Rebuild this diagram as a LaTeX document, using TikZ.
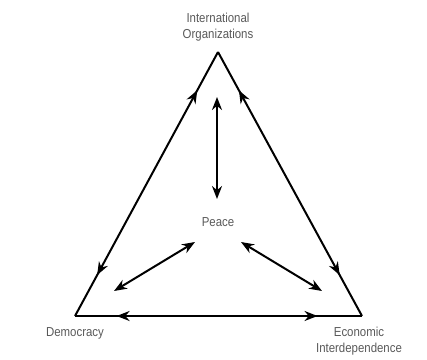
\documentclass[tikz,border=0pt]{standalone}
\usepackage{fontspec}
\setmainfont{Liberation Sans}
\newfontfamily\narrowfont[FakeStretch=0.88]{Liberation Sans}
\usetikzlibrary{positioning}
\usetikzlibrary{arrows.meta}
\usetikzlibrary{decorations.markings}

\begin{document}
\begin{tikzpicture}[x=1pt, y=-1pt, node distance=2pt,
    vertex/.style={shape=circle, inner sep=0mm, minimum size=0mm},
    label/.style={text=black!65, font=\narrowfont\fontsize{13}{16}\selectfont, inner sep=1pt, align=center},
    side/.style={line width=2pt, line join=miter, postaction={decorate},
      decoration={markings,
        mark=at position 0.145 with {\arrowreversed{Stealth[length=13pt, width=10pt]}},
        mark=at position 0.845 with {\arrow{Stealth[length=13pt, width=10pt]}}}},
    link/.style={line width=2pt, {Stealth[length=13pt, width=10pt]}-{Stealth[length=13pt, width=10pt]}},
  ]
    \useasboundingbox (0,0) rectangle (427,359);

    \node[vertex] (top) at (218,52) {};
    \node[vertex] (left) at (75,316) {};
    \node[vertex] (right) at (362,316) {};

    \node[label, above=9pt of top] (label_top) {International\\Organizations};
    \node[label, below=10pt of left] (label_left) {Democracy};
    \node[label, below=10pt of right, xshift=-3pt] (label_right) {Economic\\Interdependence};

    \node[label] (peace) at (218,222) {Peace};

    \coordinate (peace_0) at (217,97);
    \coordinate (peace_1) at (217,199);
    \coordinate (peace_2) at (195,242);
    \coordinate (peace_3) at (114,291);
    \coordinate (peace_4) at (241,242);
    \coordinate (peace_5) at (322,291);

    \draw[side] (top.center) -- (left.center);
    \draw[side] (left.center) -- (right.center);
    \draw[side] (top.center) -- (right.center);

    \draw[link] (peace_0) -- (peace_1);
    \draw[link] (peace_2) -- (peace_3);
    \draw[link] (peace_4) -- (peace_5);
  \end{tikzpicture}
\end{document}
